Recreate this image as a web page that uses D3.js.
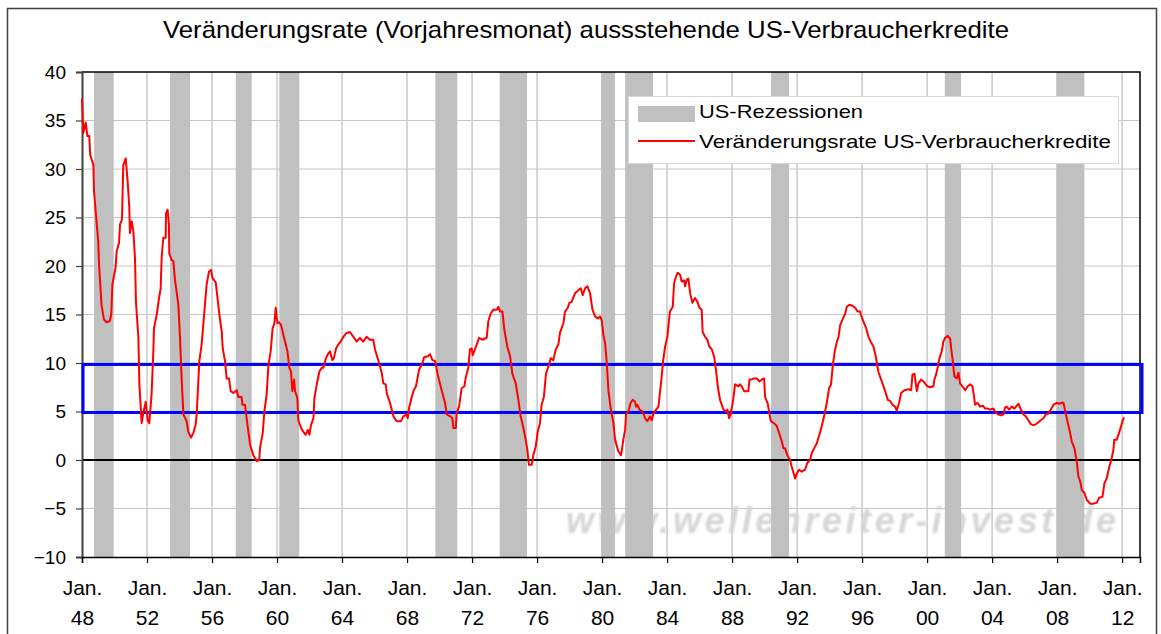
<!DOCTYPE html>
<html>
<head>
<meta charset="utf-8">
<script src="https://cdn.jsdelivr.net/npm/d3@7"></script>
<style>
  html, body { margin: 0; padding: 0; background: #ffffff; }
  svg { display: block; }
  text { font-family: Arial, "Liberation Sans", sans-serif; }
</style>
</head>
<body>
<svg id="chart" width="1161" height="634"></svg>
<script>
// ---------------- data ----------------
const titleText = "Veränderungsrate (Vorjahresmonat) aussstehende US-Verbraucherkredite";
const seriesName = "Veränderungsrate US-Verbraucherkredite";
const recessionName = "US-Rezessionen";
const watermarkText = "www.wellenreiter-invest.de";

// x tick positions (years) and labels
const xTickYears = [1948, 1952, 1956, 1960, 1964, 1968, 1972, 1976, 1980, 1984, 1988, 1992, 1996, 2000, 2004, 2008, 2012];
const xTickLabels = ["48", "52", "56", "60", "64", "68", "72", "76", "80", "84", "88", "92", "96", "00", "04", "08", "12"];
const yTicks = [-10, -5, 0, 5, 10, 15, 20, 25, 30, 35, 40];

// recession bands (decimal years)
const recStart = [1948.74, 1953.42, 1957.46, 1960.14, 1969.74, 1973.70, 1979.94, 1981.42, 1990.40, 2001.09, 2007.96];
const recEnd   = [1949.95, 1954.65, 1958.44, 1961.37, 1971.09, 1975.38, 1980.80, 1983.14, 1991.51, 2002.09, 2009.68];

// target band (blue rectangle)
const bandLow = 4.9;
const bandHigh = 9.85;

// series: dates (decimal years) and year-over-year change (%)
const dates = [
  1948.00, 1948.08, 1948.23, 1948.33, 1948.45, 1948.50, 1948.70, 1948.74, 1949.00, 1949.05,
  1949.20, 1949.35, 1949.50, 1949.70, 1949.80, 1949.87, 1950.07, 1950.13, 1950.28, 1950.34,
  1950.46, 1950.54, 1950.69, 1950.81, 1950.91, 1950.95, 1951.06, 1951.16, 1951.26, 1951.32,
  1951.47, 1951.53, 1951.67, 1951.77, 1951.92, 1952.04, 1952.14, 1952.28, 1952.39, 1952.43,
  1952.60, 1952.74, 1952.84, 1952.90, 1953.00, 1953.15, 1953.17, 1953.27, 1953.35, 1953.37,
  1953.52, 1953.62, 1953.72, 1953.93, 1954.03, 1954.13, 1954.24, 1954.44, 1954.54, 1954.71,
  1954.85, 1954.99, 1955.06, 1955.22, 1955.36, 1955.53, 1955.67, 1955.81, 1955.94, 1956.02,
  1956.23, 1956.29, 1956.45, 1956.60, 1956.66, 1956.80, 1956.90, 1957.05, 1957.15, 1957.31,
  1957.52, 1957.62, 1957.82, 1957.87, 1958.03, 1958.13, 1958.34, 1958.54, 1958.75, 1958.91,
  1958.95, 1959.12, 1959.22, 1959.36, 1959.47, 1959.61, 1959.73, 1959.83, 1959.92, 1960.02,
  1960.12, 1960.25, 1960.39, 1960.64, 1960.76, 1960.86, 1960.94, 1961.05, 1961.11, 1961.25,
  1961.31, 1961.48, 1961.62, 1961.76, 1961.89, 1961.99, 1962.09, 1962.24, 1962.30, 1962.48,
  1962.60, 1962.75, 1962.85, 1963.01, 1963.16, 1963.26, 1963.40, 1963.50, 1963.63, 1963.77,
  1963.91, 1964.08, 1964.28, 1964.49, 1964.70, 1964.90, 1965.10, 1965.30, 1965.51, 1965.72,
  1965.92, 1966.03, 1966.23, 1966.44, 1966.54, 1966.69, 1966.75, 1966.95, 1967.16, 1967.36,
  1967.63, 1967.77, 1967.98, 1968.04, 1968.14, 1968.29, 1968.39, 1968.55, 1968.74, 1968.95,
  1969.05, 1969.28, 1969.42, 1969.56, 1969.73, 1969.89, 1970.13, 1970.34, 1970.44, 1970.65,
  1970.79, 1970.85, 1971.00, 1971.05, 1971.20, 1971.36, 1971.53, 1971.60, 1971.77, 1971.87,
  1971.98, 1972.04, 1972.18, 1972.35, 1972.43, 1972.63, 1972.90, 1973.00, 1973.15, 1973.31,
  1973.52, 1973.62, 1973.72, 1973.87, 1973.99, 1974.17, 1974.34, 1974.48, 1974.69, 1974.85,
  1974.99, 1975.16, 1975.30, 1975.40, 1975.50, 1975.67, 1975.77, 1975.92, 1976.04, 1976.18,
  1976.28, 1976.42, 1976.55, 1976.73, 1976.84, 1977.00, 1977.15, 1977.31, 1977.41, 1977.62,
  1977.72, 1977.89, 1977.99, 1978.13, 1978.34, 1978.54, 1978.69, 1978.81, 1978.95, 1979.10,
  1979.26, 1979.41, 1979.57, 1979.74, 1979.88, 1979.98, 1980.08, 1980.19, 1980.29, 1980.39,
  1980.54, 1980.70, 1980.80, 1981.00, 1981.17, 1981.31, 1981.42, 1981.48, 1981.62, 1981.76,
  1981.89, 1982.03, 1982.09, 1982.17, 1982.30, 1982.50, 1982.65, 1982.79, 1982.95, 1983.06,
  1983.16, 1983.33, 1983.47, 1983.57, 1983.67, 1983.74, 1983.88, 1984.02, 1984.14, 1984.18,
  1984.35, 1984.43, 1984.55, 1984.66, 1984.80, 1984.90, 1985.05, 1985.11, 1985.21, 1985.31,
  1985.42, 1985.56, 1985.72, 1985.87, 1985.99, 1986.13, 1986.19, 1986.34, 1986.48, 1986.60,
  1986.75, 1986.89, 1987.01, 1987.12, 1987.26, 1987.47, 1987.63, 1987.71, 1987.82, 1987.92,
  1988.04, 1988.12, 1988.18, 1988.39, 1988.49, 1988.59, 1988.74, 1988.90, 1989.00, 1989.07,
  1989.21, 1989.31, 1989.52, 1989.68, 1989.83, 1989.97, 1990.03, 1990.18, 1990.30, 1990.38,
  1990.58, 1990.75, 1990.89, 1991.06, 1991.16, 1991.26, 1991.40, 1991.57, 1991.67, 1991.88,
  1991.98, 1992.12, 1992.28, 1992.49, 1992.63, 1992.80, 1992.90, 1993.05, 1993.21, 1993.37,
  1993.52, 1993.66, 1993.83, 1993.97, 1994.09, 1994.20, 1994.34, 1994.45, 1994.55, 1994.65,
  1994.75, 1994.96, 1995.06, 1995.22, 1995.41, 1995.57, 1995.72, 1995.88, 1995.92, 1996.08,
  1996.25, 1996.39, 1996.53, 1996.70, 1996.85, 1997.00, 1997.21, 1997.42, 1997.58, 1997.72,
  1997.87, 1998.03, 1998.13, 1998.28, 1998.40, 1998.61, 1998.85, 1999.02, 1999.10, 1999.22,
  1999.37, 1999.47, 1999.63, 1999.77, 1999.87, 2000.02, 2000.18, 2000.39, 2000.45, 2000.55,
  2000.66, 2000.76, 2000.90, 2001.00, 2001.11, 2001.27, 2001.42, 2001.48, 2001.58, 2001.68,
  2001.82, 2001.93, 2002.03, 2002.17, 2002.34, 2002.50, 2002.65, 2002.79, 2002.90, 2002.95,
  2003.10, 2003.26, 2003.43, 2003.57, 2003.73, 2003.88, 2004.08, 2004.18, 2004.35, 2004.55,
  2004.69, 2004.80, 2004.90, 2005.05, 2005.21, 2005.37, 2005.52, 2005.62, 2005.77, 2005.93,
  2006.07, 2006.23, 2006.38, 2006.54, 2006.71, 2006.85, 2006.99, 2007.16, 2007.30, 2007.47,
  2007.61, 2007.78, 2007.98, 2008.12, 2008.29, 2008.39, 2008.53, 2008.66, 2008.80, 2008.90,
  2009.07, 2009.15, 2009.21, 2009.31, 2009.42, 2009.52, 2009.68, 2009.82, 2010.03, 2010.23,
  2010.44, 2010.58, 2010.79, 2010.91, 2011.05, 2011.20, 2011.36, 2011.46, 2011.52, 2011.67,
  2011.81, 2011.94, 2012.02, 2012.12
];
const values = [
  37.3, 33.7, 34.8, 33.4, 33.4, 31.5, 30.4, 27.7, 22.5, 20.1,
  16.0, 14.5, 14.2, 14.3, 15.0, 18.1, 19.9, 21.5, 22.4, 24.3,
  24.8, 30.4, 31.1, 28.7, 26.0, 23.4, 24.6, 23.6, 20.8, 16.3,
  12.6, 7.8, 3.8, 4.8, 6.0, 4.1, 3.8, 6.7, 11.2, 13.6,
  15.0, 16.7, 17.7, 20.8, 22.9, 22.9, 25.4, 25.8, 24.3, 21.3,
  20.6, 20.5, 18.6, 16.0, 12.6, 8.4, 4.7, 4.0, 2.9, 2.3,
  2.8, 3.6, 4.8, 10.2, 11.9, 15.3, 18.1, 19.4, 19.6, 18.8,
  18.3, 17.4, 15.0, 13.2, 11.5, 10.2, 8.4, 8.4, 7.1, 6.9,
  7.2, 6.5, 6.5, 5.7, 5.7, 4.3, 1.6, 0.5, -0.1, 0.0,
  1.2, 2.8, 5.0, 6.7, 9.8, 11.2, 13.6, 14.0, 15.7, 14.1,
  14.2, 13.9, 12.9, 11.2, 9.5, 9.1, 7.1, 8.3, 7.1, 6.4,
  4.1, 3.3, 2.9, 2.6, 3.1, 2.6, 3.6, 4.3, 6.4, 8.1,
  9.1, 9.5, 9.5, 10.5, 11.0, 11.2, 10.3, 10.5, 11.5, 11.9,
  12.2, 12.7, 13.1, 13.2, 12.7, 12.2, 12.6, 12.2, 12.7, 12.4,
  12.4, 11.4, 10.3, 9.0, 7.9, 7.8, 6.9, 5.9, 4.5, 4.0,
  4.0, 4.5, 4.7, 4.3, 5.5, 6.5, 7.1, 7.6, 9.3, 10.0,
  10.6, 10.7, 10.9, 10.3, 10.2, 8.8, 7.2, 5.9, 4.7, 4.5,
  4.3, 3.3, 3.3, 4.8, 5.5, 7.4, 7.6, 8.4, 9.5, 11.4,
  11.5, 10.8, 11.4, 12.2, 12.6, 12.4, 12.6, 14.3, 15.1, 15.5,
  15.5, 15.8, 15.3, 15.3, 13.4, 11.7, 10.7, 8.9, 7.9, 6.2,
  4.5, 3.3, 2.1, 1.1, -0.5, -0.5, 0.5, 1.4, 2.9, 3.8,
  5.7, 6.5, 8.9, 9.8, 10.5, 10.3, 11.4, 11.9, 13.1, 14.1,
  15.3, 15.7, 16.2, 16.3, 17.2, 17.5, 17.7, 17.0, 17.7, 17.9,
  17.2, 15.5, 14.8, 14.6, 14.8, 14.4, 12.9, 12.0, 10.0, 7.2,
  5.2, 3.8, 2.1, 0.9, 0.5, 2.1, 3.1, 4.8, 5.0, 5.9,
  6.2, 6.0, 5.5, 5.7, 5.2, 5.0, 4.3, 4.0, 4.5, 4.1,
  4.8, 5.2, 5.5, 7.1, 8.6, 10.0, 11.7, 12.7, 14.8, 15.3,
  15.8, 18.2, 18.9, 19.3, 19.1, 18.4, 18.5, 17.9, 18.6, 18.7,
  17.2, 16.2, 16.7, 16.3, 15.7, 15.5, 13.2, 12.7, 12.4, 11.7,
  11.4, 10.7, 9.3, 7.6, 6.2, 5.2, 5.0, 5.2, 4.3, 4.8,
  5.9, 6.9, 7.8, 7.6, 7.8, 7.6, 7.1, 7.1, 7.1, 8.3,
  8.3, 8.4, 8.4, 8.1, 8.3, 8.4, 6.5, 5.9, 4.8, 4.0,
  3.8, 3.5, 2.8, 1.9, 1.2, 1.2, 0.5, 0.0, -0.7, -1.9,
  -1.4, -1.0, -1.2, -1.0, -0.3, 0.0, 0.7, 1.2, 1.7, 2.6,
  3.5, 4.5, 5.9, 7.4, 7.8, 9.8, 11.4, 12.2, 12.7, 13.9,
  14.3, 15.1, 15.8, 16.0, 15.9, 15.7, 15.3, 15.3, 15.0, 14.3,
  13.6, 12.7, 12.2, 11.7, 10.6, 9.1, 8.1, 7.1, 6.2, 6.1,
  5.7, 5.5, 5.1, 5.9, 6.9, 7.2, 7.3, 7.2, 8.8, 8.9,
  7.1, 7.9, 8.3, 8.1, 7.9, 7.6, 7.5, 7.6, 8.3, 8.8,
  9.6, 10.5, 11.2, 12.2, 12.6, 12.8, 12.5, 11.5, 10.2, 8.6,
  8.4, 9.0, 7.9, 7.6, 7.2, 7.6, 7.8, 7.6, 6.4, 5.7,
  5.9, 5.5, 5.6, 5.3, 5.3, 5.2, 5.3, 5.0, 4.7, 4.6,
  4.7, 5.4, 5.5, 5.2, 5.5, 5.3, 5.6, 5.8, 5.2, 4.7,
  4.5, 4.1, 3.7, 3.6, 3.7, 3.9, 4.1, 4.3, 4.7, 4.8,
  5.2, 5.7, 5.9, 5.8, 5.9, 5.9, 4.8, 3.8, 2.8, 1.9,
  1.2, 0.4, -0.2, -1.7, -2.2, -3.1, -3.4, -4.1, -4.5, -4.5,
  -4.4, -3.9, -3.8, -2.4, -1.9, -0.8, 0.2, 1.0, 2.1, 2.1,
  2.8, 3.5, 4.0, 4.4
];

// ---------------- layout ----------------
const svg = d3.select("#chart");
const W = 1161, H = 634;
const plot = { left: 82, right: 1140, top: 72, bottom: 557 };

const x = d3.scaleLinear().domain([1948, 2013.1]).range([plot.left, plot.right]);
const y = d3.scaleLinear().domain([-10, 40]).range([plot.bottom, plot.top]);

svg.append("rect").attr("x", 0).attr("y", 0).attr("width", W).attr("height", H).attr("fill", "#ffffff");
// outer chart border
svg.append("rect").attr("x", 7.5).attr("y", 8.5).attr("width", 1149).attr("height", 640)
  .attr("fill", "none").attr("stroke", "#404040").attr("stroke-width", 1.5);

// title
svg.append("text")
  .attr("x", 586).attr("y", 38)
  .attr("text-anchor", "middle")
  .attr("font-size", 24)
  .attr("textLength", 846).attr("lengthAdjust", "spacingAndGlyphs")
  .attr("fill", "#000")
  .text(titleText);

// gridlines
const gGrid = svg.append("g");
gGrid.selectAll("line.h").data(yTicks.filter(d => d !== 0 && d !== 40 && d !== -10)).join("line")
  .attr("x1", plot.left).attr("x2", plot.right)
  .attr("y1", d => y(d)).attr("y2", d => y(d))
  .attr("stroke", "#c6c6c6").attr("stroke-width", 1.2);
gGrid.selectAll("line.v").data(xTickYears.slice(1)).join("line")
  .attr("x1", d => x(d)).attr("x2", d => x(d))
  .attr("y1", plot.top).attr("y2", plot.bottom)
  .attr("stroke", "#cdcdcd").attr("stroke-width", 1.6);

// watermark (under the bands)
const defs = svg.append("defs");
defs.append("filter").attr("id", "blur").append("feGaussianBlur").attr("stdDeviation", 0.9);
svg.append("text")
  .attr("x", 566).attr("y", 533)
  .attr("font-size", 36).attr("font-style", "italic").attr("font-weight", "bold")
  .attr("textLength", 550).attr("lengthAdjust", "spacing")
  .attr("fill", "#d6d6d6")
  .attr("filter", "url(#blur)")
  .text(watermarkText);

// recession bands
svg.append("g").selectAll("rect").data(recStart.map((s, i) => [s, recEnd[i]])).join("rect")
  .attr("x", d => x(d[0])).attr("width", d => x(d[1]) - x(d[0]))
  .attr("y", plot.top).attr("height", plot.bottom - plot.top)
  .attr("fill", "#c0c0c0");

// zero line
svg.append("line")
  .attr("x1", plot.left).attr("x2", plot.right)
  .attr("y1", y(0)).attr("y2", y(0))
  .attr("stroke", "#000").attr("stroke-width", 2);

// plot border top/right
svg.append("path")
  .attr("d", `M${plot.left},${plot.top}H${plot.right}V${plot.bottom}`)
  .attr("fill", "none").attr("stroke", "#000").attr("stroke-width", 1.5);

// axes
const yAxis = d3.axisLeft(y).tickValues(yTicks).tickSize(6).tickPadding(10).tickFormat(d3.format("d"));
const gy = svg.append("g").attr("transform", `translate(${plot.left},0)`).call(yAxis);
gy.select(".domain").attr("stroke", "#404040").attr("stroke-width", 2);
gy.selectAll(".tick line").attr("stroke", "#404040").attr("stroke-width", 1.2);
gy.selectAll(".tick text").attr("font-size", 19).attr("fill", "#000")
  .attr("font-family", "Arial, 'Liberation Sans', sans-serif");

const xAxis = d3.axisBottom(x).tickValues(xTickYears).tickSize(6).tickFormat(() => "");
const gx = svg.append("g").attr("transform", `translate(0,${plot.bottom})`).call(xAxis);
gx.select(".domain").attr("stroke", "#000").attr("stroke-width", 1.5);
gx.selectAll(".tick line").attr("stroke", "#000").attr("stroke-width", 1.2);
gx.selectAll(".tick").each(function (d, i) {
  const t = d3.select(this);
  t.append("text").attr("y", 38).attr("text-anchor", "middle").attr("font-size", 21).attr("fill", "#000").text("Jan.");
  t.append("text").attr("y", 68).attr("text-anchor", "middle").attr("font-size", 21).attr("fill", "#000").text(xTickLabels[i]);
});

// blue target band
svg.append("rect")
  .attr("x", plot.left + 1).attr("y", y(bandHigh))
  .attr("width", 1142 - plot.left - 1).attr("height", y(bandLow) - y(bandHigh))
  .attr("fill", "none").attr("stroke", "#0000ff").attr("stroke-width", 3);

// series line
const line = d3.line().x((d, i) => x(dates[i])).y(d => y(d));
svg.append("path")
  .datum(values)
  .attr("d", line)
  .attr("fill", "none").attr("stroke", "#ff0000").attr("stroke-width", 2)
  .attr("stroke-linejoin", "round");

// legend
const lg = svg.append("g");
lg.append("rect").attr("x", 628.5).attr("y", 96.5).attr("width", 490).attr("height", 67)
  .attr("fill", "#ffffff").attr("stroke", "#d8d8d8").attr("stroke-width", 1);
lg.append("rect").attr("x", 638).attr("y", 106).attr("width", 57).attr("height", 16).attr("fill", "#c0c0c0");
lg.append("text").attr("x", 699).attr("y", 118).attr("font-size", 19).attr("fill", "#000")
  .attr("textLength", 164).attr("lengthAdjust", "spacingAndGlyphs").text(recessionName);
lg.append("line").attr("x1", 638).attr("x2", 695).attr("y1", 141).attr("y2", 141)
  .attr("stroke", "#ff0000").attr("stroke-width", 2);
lg.append("text").attr("x", 699).attr("y", 148).attr("font-size", 19).attr("fill", "#000")
  .attr("textLength", 412).attr("lengthAdjust", "spacingAndGlyphs").text(seriesName);
</script>
</body>
</html>
